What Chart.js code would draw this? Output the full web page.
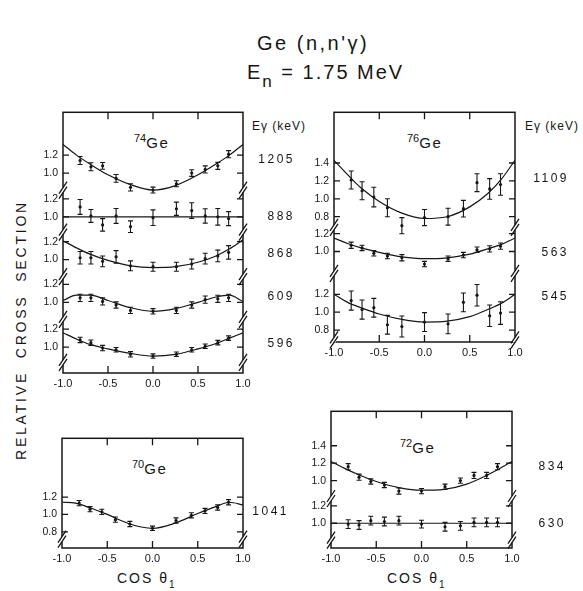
<!DOCTYPE html>
<html>
<head>
<meta charset="utf-8">
<script src="https://cdn.jsdelivr.net/npm/chart.js@4.4.0/dist/chart.umd.min.js"></script>
<style>
  body { margin: 0; background: #fff; width: 583px; height: 591px; position: relative; overflow: hidden;
         font-family: "Liberation Sans", Arial, sans-serif; color: #161616; }
  canvas { position: absolute; }
  .txt { position: absolute; white-space: nowrap; line-height: 1; }
  .iso { font-size: 15px; letter-spacing: 1.5px; }
  .iso span { font-size: 11px; position: relative; top: -6px; letter-spacing: 0; }
  .eg { font-size: 12px; letter-spacing: 1px; }
  .cos { font-size: 14px; letter-spacing: 2px; }
</style>
</head>
<body>
<div class="txt" style="left:257px; top:33px; font-size:20px; letter-spacing:2.5px">Ge (n,n'γ)</div>
<div class="txt" style="left:247px; top:62px; font-size:20px; letter-spacing:2px">E<span style="font-size:17px;position:relative;top:8px">n</span> = 1.75 MeV</div>

<div class="txt eg" style="left:252px; top:120px">Eγ (keV)</div>
<div class="txt eg" style="left:525px; top:120px">Eγ (keV)</div>

<div class="txt iso" style="left:134px; top:135px"><span>74</span>Ge</div>
<div class="txt iso" style="left:407px; top:135px"><span>76</span>Ge</div>
<div class="txt iso" style="left:132px; top:461px"><span>70</span>Ge</div>
<div class="txt iso" style="left:400px; top:440px"><span>72</span>Ge</div>

<div class="txt" style="left:21px; top:330px; font-size:14px; letter-spacing:2.8px; word-spacing:6px; transform:translate(-50%,-50%) rotate(-90deg)">RELATIVE CROSS SECTION</div>

<div class="txt cos" style="left:117px; top:571px">COS θ<span style="font-size:10px;position:relative;top:5px">1</span></div>
<div class="txt cos" style="left:387px; top:571px">COS θ<span style="font-size:10px;position:relative;top:5px">1</span></div>

<script>
// angles (cos theta) of the measured points, and where the fitted curves were read
const cosTheta = [-0.81, -0.69, -0.56, -0.41, -0.25, 0.0, 0.26, 0.43, 0.58, 0.72, 0.84];
const cosFit   = [-1.0, -0.85, -0.7, -0.5, -0.25, 0.0, 0.25, 0.5, 0.7, 0.85, 1.0];
const cosTicks = [-1.0, -0.5, 0.0, 0.5, 1.0];

// 74Ge
const ge74_1205     = [1.14, 1.07, 1.08, 0.94, 0.84, 0.81, 0.88, 1.00, 1.04, 1.08, 1.21];
const ge74_1205_err = [0.045, 0.045, 0.037, 0.043, 0.04, 0.033, 0.033, 0.037, 0.04, 0.039, 0.04];
const ge74_1205_fit = [1.32, 1.20, 1.10, 0.98, 0.87, 0.81, 0.86, 0.98, 1.10, 1.20, 1.32];
const ge74_888      = [1.11, 1.01, 0.91, 1.01, 0.89, 0.99, 1.09, 1.07, 1.01, 1.00, 0.98];
const ge74_888_err  = [0.083, 0.072, 0.07, 0.083, 0.065, 0.087, 0.074, 0.087, 0.08, 0.093, 0.078];
const ge74_888_fit  = [1.0, 1.0, 1.0, 1.0, 1.0, 1.0, 1.0, 1.0, 1.0, 1.0, 1.0];
const ge74_868      = [1.02, 1.02, 0.98, 1.03, 0.93, 0.92, 0.92, 0.95, 1.01, 1.04, 1.08];
const ge74_868_err  = [0.07, 0.07, 0.06, 0.07, 0.055, 0.05, 0.05, 0.055, 0.06, 0.065, 0.075];
const ge74_868_fit  = [1.21, 1.13, 1.06, 0.99, 0.93, 0.91, 0.92, 0.97, 1.04, 1.12, 1.22];
const ge74_609      = [1.05, 1.05, 1.01, 0.97, 0.91, 0.90, 0.91, 0.97, 1.03, 1.04, 1.05];
const ge74_609_err  = [0.04, 0.04, 0.04, 0.035, 0.035, 0.03, 0.035, 0.035, 0.04, 0.04, 0.04];
const ge74_609_fit  = [1.02, 1.08, 1.08, 1.02, 0.94, 0.90, 0.93, 1.00, 1.06, 1.08, 1.01];
const ge74_596      = [1.08, 1.05, 0.99, 0.97, 0.92, 0.90, 0.92, 0.97, 1.01, 1.05, 1.10];
const ge74_596_err  = [0.03, 0.03, 0.03, 0.025, 0.03, 0.025, 0.025, 0.025, 0.025, 0.025, 0.025];
const ge74_596_fit  = [1.16, 1.09, 1.03, 0.98, 0.93, 0.90, 0.92, 0.98, 1.04, 1.10, 1.16];

// 76Ge
const ge76_1109     = [1.21, 1.09, 1.02, 0.90, 0.70, 0.79, 0.80, 0.89, 1.18, 1.11, 1.16];
const ge76_1109_err = [0.10, 0.10, 0.11, 0.10, 0.09, 0.09, 0.094, 0.093, 0.10, 0.115, 0.12];
const ge76_1109_fit = [1.43, 1.27, 1.12, 0.97, 0.84, 0.78, 0.80, 0.91, 1.06, 1.22, 1.43];
const ge76_563      = [1.07, 1.04, 0.98, 0.95, 0.93, 0.86, 0.92, 0.96, 1.02, 1.03, 1.06];
const ge76_563_err  = [0.035, 0.03, 0.03, 0.03, 0.035, 0.03, 0.03, 0.03, 0.03, 0.035, 0.035];
const ge76_563_fit  = [1.15, 1.09, 1.04, 0.99, 0.94, 0.92, 0.93, 0.97, 1.03, 1.08, 1.15];
const ge76_545      = [1.13, 1.03, 1.05, 0.86, 0.84, 0.89, 0.87, 1.11, 1.19, 0.96, 0.99];
const ge76_545_err  = [0.107, 0.107, 0.105, 0.105, 0.117, 0.105, 0.11, 0.105, 0.12, 0.12, 0.126];
const ge76_545_fit  = [1.20, 1.11, 1.05, 0.98, 0.92, 0.89, 0.90, 0.95, 1.03, 1.10, 1.20];

// 70Ge
const ge70_1041     = [1.13, 1.06, 1.03, 0.94, 0.89, 0.84, 0.93, 0.99, 1.04, 1.08, 1.14];
const ge70_1041_err = [0.03, 0.03, 0.03, 0.03, 0.03, 0.025, 0.03, 0.03, 0.03, 0.03, 0.03];
const ge70_1041_fit = [1.14, 1.13, 1.08, 1.00, 0.89, 0.84, 0.90, 1.01, 1.09, 1.14, 1.11];

// 72Ge
const ge72_834      = [1.16, 1.04, 0.99, 0.95, 0.88, 0.88, 0.93, 1.00, 1.06, 1.06, 1.16];
const ge72_834_err  = [0.035, 0.035, 0.03, 0.03, 0.035, 0.03, 0.03, 0.03, 0.035, 0.035, 0.035];
const ge72_834_fit  = [1.22, 1.14, 1.07, 0.99, 0.92, 0.89, 0.90, 0.96, 1.05, 1.13, 1.22];
const ge72_630      = [0.99, 0.98, 1.03, 1.02, 1.03, 0.99, 0.96, 0.97, 1.01, 1.01, 1.01];
const ge72_630_err  = [0.05, 0.05, 0.05, 0.05, 0.05, 0.045, 0.05, 0.05, 0.05, 0.05, 0.05];
const ge72_630_fit  = [1.0, 1.0, 1.0, 1.0, 1.0, 1.0, 1.0, 1.0, 1.0, 1.0, 1.0];

const INK = '#161616';
const FONT = '"Liberation Sans", Arial, sans-serif';
const PAD_L = 45, PAD_T = 10, PAD_R = 75, PAD_B = 26;

// panel boxes (page pixels) and the broken y axis strips stacked inside each
const panels = [
  { box: { left: 63, top: 111, right: 243, bottom: 373 }, ppu: 90, labelGap: 52, strips: [
    { label: '1205', vals: ge74_1205, err: ge74_1205_err, fit: ge74_1205_fit, offset: 1.233, ticks: [1.0, 1.2], breakAt: 0.81, labelAt: 1.15 },
    { label: '888',  vals: ge74_888,  err: ge74_888_err,  fit: ge74_888_fit,  offset: 0.744, ticks: [1.0, 1.2], breakAt: 0.83, labelAt: 1.0 },
    { label: '868',  vals: ge74_868,  err: ge74_868_err,  fit: ge74_868_fit,  offset: 0.267, ticks: [1.0, 1.2], breakAt: 0.81, labelAt: 1.07 },
    { label: '609',  vals: ge74_609,  err: ge74_609_err,  fit: ge74_609_fit,  offset: -0.211, ticks: [1.0, 1.2], breakAt: 0.81, labelAt: 1.06 },
    { label: '596',  vals: ge74_596,  err: ge74_596_err,  fit: ge74_596_fit,  offset: -0.711, ticks: [1.0, 1.2], breakAt: 0.83, labelAt: 1.04 }
  ]},
  { box: { left: 334, top: 111, right: 515, bottom: 342 }, ppu: 90, labelGap: 54, strips: [
    { label: '1109', vals: ge76_1109, err: ge76_1109_err, fit: ge76_1109_fit, offset: 0.6, ticks: [0.8, 1.0, 1.2, 1.4], breakAt: 0.68, labelAt: 1.23 },
    { label: '563',  vals: ge76_563,  err: ge76_563_err,  fit: ge76_563_fit,  offset: 0.011, ticks: [1.0, 1.2], breakAt: 0.756, labelAt: 0.99 },
    { label: '545',  vals: ge76_545,  err: ge76_545_err,  fit: ge76_545_fit,  offset: -0.667, ticks: [0.8, 1.0, 1.2], breakAt: 0.69, labelAt: 1.17 }
  ]},
  { box: { left: 62, top: 437, right: 243, bottom: 548 }, ppu: 88, labelGap: 46, strips: [
    { label: '1041', vals: ge70_1041, err: ge70_1041_err, fit: ge70_1041_fit, offset: -0.614, ticks: [0.8, 1.0, 1.2], breakAt: 0.716, labelAt: 1.03 }
  ]},
  { box: { left: 331, top: 410, right: 512, bottom: 548 }, ppu: 88, labelGap: 54, strips: [
    { label: '834', vals: ge72_834, err: ge72_834_err, fit: ge72_834_fit, offset: -0.227, ticks: [1.0, 1.2, 1.4], breakAt: 0.795, labelAt: 1.16 },
    { label: '630', vals: ge72_630, err: ge72_630_err, fit: ge72_630_fit, offset: -0.716, ticks: [1.0, 1.2], breakAt: 0.807, labelAt: 0.99 }
  ]}
];

// frame, inward ticks, axis breaks, error bars and gamma energy labels
const framePlugin = {
  id: 'frame',
  afterDatasetsDraw(chart, args, opts) {
    const { ctx, chartArea: a, scales: { x, y } } = chart;
    ctx.save();
    ctx.strokeStyle = INK;

    // error bars
    ctx.lineWidth = 1.1;
    chart.data.datasets.forEach(ds => {
      if (!ds.errs) return;
      ds.data.forEach((p, i) => {
        const px = x.getPixelForValue(p.x);
        const y1 = y.getPixelForValue(p.y - ds.errs[i]);
        const y2 = y.getPixelForValue(p.y + ds.errs[i]);
        ctx.beginPath();
        ctx.moveTo(px, y1); ctx.lineTo(px, y2);
        ctx.moveTo(px - 2.5, y1); ctx.lineTo(px + 2.5, y1);
        ctx.moveTo(px - 2.5, y2); ctx.lineTo(px + 2.5, y2);
        ctx.stroke();
      });
    });

    // box
    ctx.lineWidth = 1.5;
    ctx.strokeRect(a.left, a.top, a.width, a.height);

    // inward ticks
    ctx.lineWidth = 1.3;
    ctx.beginPath();
    cosTicks.forEach(c => {
      if (Math.abs(c) === 1) return;
      const px = x.getPixelForValue(c);
      ctx.moveTo(px, a.bottom); ctx.lineTo(px, a.bottom - 7);
      ctx.moveTo(px, a.top); ctx.lineTo(px, a.top + 7);
    });
    opts.strips.forEach(s => s.ticks.forEach(t => {
      const py = y.getPixelForValue(t + s.offset);
      ctx.moveTo(a.left, py); ctx.lineTo(a.left + 6, py);
      ctx.moveTo(a.right, py); ctx.lineTo(a.right - 6, py);
    }));
    ctx.stroke();

    // "//" axis breaks
    opts.strips.forEach(s => {
      const py = y.getPixelForValue(s.breakAt + s.offset);
      [a.left, a.right].forEach(ax => {
        ctx.fillStyle = '#fff';
        ctx.fillRect(ax - 2, py - 2.5, 4, 5);
        ctx.beginPath();
        [-2.5, 2.5].forEach(d => { ctx.moveTo(ax - 4, py + d + 6); ctx.lineTo(ax + 4, py + d - 6); });
        ctx.stroke();
      });
    });

    // energy labels
    ctx.fillStyle = INK;
    ctx.font = '12px ' + FONT;
    ctx.letterSpacing = '2.5px';
    ctx.textAlign = 'right';
    ctx.textBaseline = 'middle';
    opts.strips.forEach(s => ctx.fillText(s.label, a.right + opts.labelGap, y.getPixelForValue(s.labelAt + s.offset)));
    ctx.restore();
  }
};

function initPanel(p) {
  const w = p.box.right - p.box.left, h = p.box.bottom - p.box.top;
  const canvas = document.createElement('canvas');
  canvas.width = PAD_L + w + PAD_R;
  canvas.height = PAD_T + h + PAD_B;
  canvas.style.left = (p.box.left - PAD_L) + 'px';
  canvas.style.top = (p.box.top - PAD_T) + 'px';
  document.body.appendChild(canvas);

  const datasets = [];
  const yTicks = [];
  p.strips.forEach(s => {
    datasets.push({
      data: cosFit.map((c, i) => ({ x: c, y: s.fit[i] + s.offset })),
      showLine: true, borderColor: INK, borderWidth: 1.2, pointRadius: 0,
      cubicInterpolationMode: 'monotone'
    });
    datasets.push({
      data: cosTheta.map((c, i) => ({ x: c, y: s.vals[i] + s.offset })),
      errs: s.err, pointRadius: 1.6, pointBackgroundColor: INK, pointBorderWidth: 0, showLine: false
    });
    s.ticks.forEach(t => yTicks.push({ value: t + s.offset, txt: t.toFixed(1) }));
  });

  new Chart(canvas.getContext('2d'), {
    type: 'scatter',
    data: { datasets: datasets },
    options: {
      responsive: false,
      animation: false,
      layout: { padding: { left: 0, top: PAD_T, right: PAD_R, bottom: 0 }, autoPadding: false },
      plugins: {
        legend: { display: false },
        tooltip: { enabled: false },
        frame: { strips: p.strips, labelGap: p.labelGap }
      },
      scales: {
        x: {
          type: 'linear', min: -1, max: 1,
          afterBuildTicks: s => { s.ticks = cosTicks.map(v => ({ value: v })); },
          afterFit: s => { s.height = PAD_B; },
          ticks: { callback: v => v.toFixed(1), color: INK, font: { size: 11, family: FONT }, padding: 4, maxRotation: 0, autoSkip: false },
          grid: { display: false, drawTicks: false },
          border: { display: false }
        },
        y: {
          type: 'linear', min: 0, max: h / p.ppu,
          afterBuildTicks: s => { s.ticks = yTicks.map(t => ({ value: t.value, txt: t.txt })); },
          afterFit: s => { s.width = PAD_L; },
          ticks: { callback: (v, i, t) => t[i].txt, color: INK, font: { size: 10.5, family: FONT }, padding: 5, autoSkip: false },
          grid: { display: false, drawTicks: false },
          border: { display: false }
        }
      }
    },
    plugins: [framePlugin]
  });
}

window.onload = function() {
  panels.forEach(initPanel);
};
</script>
</body>
</html>
